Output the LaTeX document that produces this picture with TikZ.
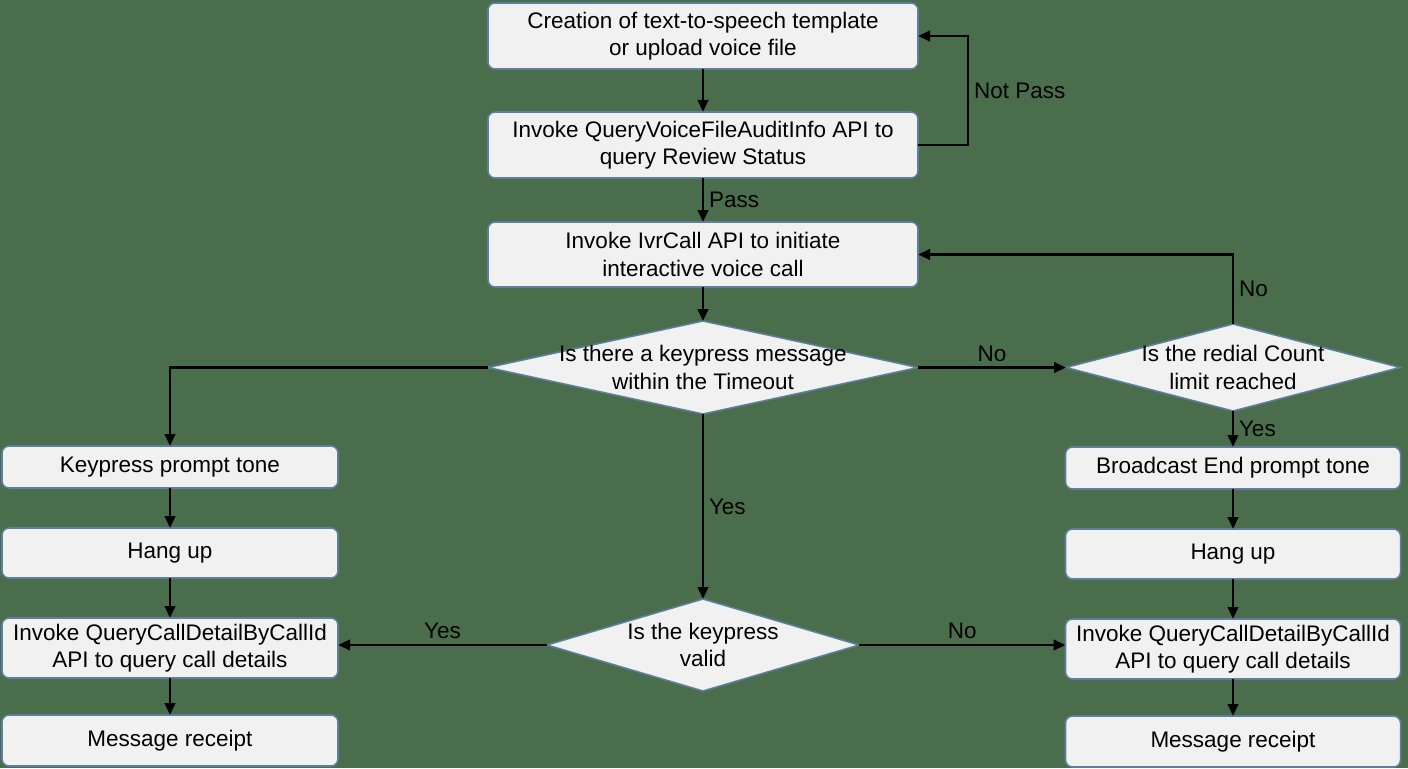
\documentclass[tikz,border=0pt]{standalone}
\usepackage{fontspec}
\setmainfont{Liberation Sans}
\usepackage{tikz}
\usetikzlibrary{arrows.meta,positioning,shapes.geometric}
\definecolor{bgx}{HTML}{4A6E4C}
\definecolor{edgex}{HTML}{5E7FA0}
\definecolor{boxx}{HTML}{F1F1F1}

\begin{document}
\begin{tikzpicture}[
  b/.style={draw=edgex, line width=1.1pt, fill=boxx, rounded corners=5pt, align=center, font=\fontsize{16}{19.5}\selectfont, inner sep=2pt, outer sep=0pt},
  dia/.style={diamond, draw=edgex, line width=1.1pt, fill=boxx, inner sep=0pt, outer sep=0pt},
  lbl/.style={font=\fontsize{16}{19.5}\selectfont, align=center},
  arr/.style={-{Triangle[length=3mm, width=2.6mm]}, line width=1.9pt},
  node distance=1cm]
\fill[bgx] (0,0) rectangle (35.2,-19.2);
% main column
\node[b, minimum width=10.75cm, minimum height=1.65cm] (tpl) at (17.575,-0.9) {Creation of text-to-speech template\\or upload voice file};
\node[b, minimum width=10.75cm, minimum height=1.65cm, below=1.075cm of tpl] (audit) {Invoke QueryVoiceFileAuditInfo API to\\query Review Status};
\node[b, minimum width=10.75cm, minimum height=1.625cm, below=1.1cm of audit] (ivr) {Invoke IvrCall API to initiate\\interactive voice call};
\node[dia, minimum width=10.75cm, minimum height=2.325cm, below=0.85cm of ivr,
  label={[lbl]center:{Is there a keypress message\\within the Timeout}}] (key) {};
\node[dia, minimum width=7.8cm, minimum height=2.3cm, below=4.625cm of key,
  label={[lbl]center:{Is the keypress\\valid}}] (valid) {};
\draw[arr] (tpl) -- (audit);
\draw[arr] (audit.east) -- ++(1.25,0) |- (tpl.east) node[pos=0.25, right, lbl] {Not Pass};
\draw[arr] (audit) -- (ivr) node[midway, right, lbl] {Pass};
\draw[arr] (ivr) -- (key);
\draw[arr] (key) -- (valid) node[midway, right, lbl] {Yes};
% left column
\node[b, minimum width=8.4cm, minimum height=1.05cm] (kp) at (4.25,-11.675) {Keypress prompt tone};
\node[b, minimum width=8.4cm, minimum height=1.25cm, below=of kp] (hangl) {Hang up};
\node[b, minimum width=8.4cm, minimum height=1.5cm, below=of hangl] (cdrl) {Invoke QueryCallDetailByCallId\\API to query call details};
\node[b, minimum width=8.4cm, minimum height=1.275cm, below=0.925cm of cdrl] (rcptl) {Message receipt};
\draw[arr] (key.west) -| (kp.north);
\draw[arr] (kp) -- (hangl); \draw[arr] (hangl) -- (cdrl); \draw[arr] (cdrl) -- (rcptl);
\draw[arr] (valid.west) -- (valid.west -| cdrl.east) node[midway, above, lbl] {Yes};
% right column
\node[dia, minimum width=8.35cm, minimum height=2.175cm, right=3.7cm of key,
  label={[lbl]center:{Is the redial Count\\limit reached}}] (redial) {};
\node[b, minimum width=8.375cm, minimum height=1.05cm, below=0.9cm of redial] (bcast) {Broadcast End prompt tone};
\node[b, minimum width=8.375cm, minimum height=1.25cm, below=of bcast] (hangr) {Hang up};
\node[b, minimum width=8.375cm, minimum height=1.5cm, below=of hangr] (cdrr) {Invoke QueryCallDetailByCallId\\API to query call details};
\node[b, minimum width=8.375cm, minimum height=1.275cm, below=0.925cm of cdrr] (rcptr) {Message receipt};
\draw[arr] (key.east) -- (redial.west) node[midway, above, lbl] {No};
\draw[arr] (redial.north) |- (ivr.east) node[pos=0.25, right, lbl] {No};
\draw[arr] (redial) -- (bcast) node[midway, right, lbl] {Yes};
\draw[arr] (bcast) -- (hangr); \draw[arr] (hangr) -- (cdrr); \draw[arr] (cdrr) -- (rcptr);
\draw[arr] (valid.east) -- (valid.east -| cdrr.west) node[midway, above, lbl] {No};
\end{tikzpicture}
\end{document}
